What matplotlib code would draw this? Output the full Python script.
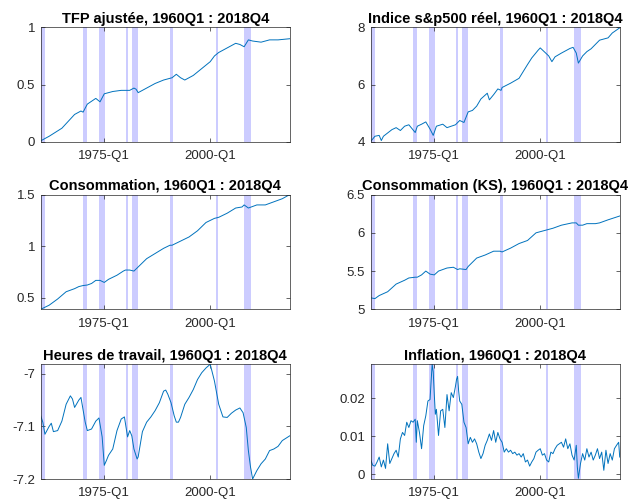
import matplotlib
matplotlib.use("Agg")
import matplotlib.pyplot as plt

plt.rcParams["font.family"] = ["Liberation Sans", "DejaVu Sans"]

# recession bands (decimal years)
bands = [(1960.0, 1960.9), (1970.0, 1970.85), (1973.85, 1975.1), (1980.05, 1980.6),
         (1981.55, 1982.9), (1990.6, 1991.15), (2001.3, 2001.85), (2008.05, 2009.55)]

tfp_t = [1960, 1962, 1965, 1968, 1969.5, 1970, 1971, 1973, 1974, 1975, 1977, 1979, 1981,
         1982, 1982.5, 1983, 1985, 1987, 1989, 1991, 1992, 1993, 1994, 1996, 1998, 2000,
         2001, 2002, 2004, 2006, 2007, 2008, 2009, 2010, 2012, 2014, 2016, 2018.75]
tfp_v = [0.01, 0.05, 0.12, 0.24, 0.27, 0.26, 0.33, 0.38, 0.35, 0.42, 0.44, 0.45, 0.45,
         0.47, 0.46, 0.43, 0.47, 0.51, 0.54, 0.56, 0.59, 0.56, 0.54, 0.58, 0.64, 0.70,
         0.75, 0.78, 0.82, 0.86, 0.85, 0.83, 0.89, 0.88, 0.87, 0.89, 0.89, 0.90]

sp_t = [1960, 1961, 1962, 1962.5, 1963, 1965, 1966, 1967, 1968, 1969, 1970.5, 1971, 1972,
        1973, 1974, 1974.75, 1975.5, 1977, 1978, 1980, 1981, 1982, 1983, 1984, 1985, 1986,
        1987.5, 1988, 1989, 1990, 1990.75, 1991, 1993, 1995, 1997, 1998, 1999.5, 2000,
        2001, 2002, 2002.75, 2003.5, 2005, 2007, 2007.75, 2008.5, 2009, 2010, 2011, 2012,
        2014, 2016, 2017, 2018.75]
sp_v = [4.02, 4.20, 4.23, 4.05, 4.20, 4.43, 4.50, 4.40, 4.55, 4.60, 4.33, 4.55, 4.62,
        4.70, 4.45, 4.23, 4.55, 4.62, 4.50, 4.60, 4.75, 4.68, 5.05, 5.10, 5.25, 5.50,
        5.70, 5.47, 5.65, 5.85, 5.80, 5.90, 6.05, 6.22, 6.70, 6.93, 7.20, 7.28,
        7.14, 7.00, 6.80, 6.97, 7.10, 7.26, 7.30, 7.10, 6.75, 7.00, 7.15, 7.25,
        7.55, 7.63, 7.80, 7.98]

c_t = [1960, 1962, 1964, 1966, 1968, 1969, 1970, 1971, 1972, 1973, 1974, 1975, 1976, 1978,
       1979.5, 1980, 1981, 1982, 1983, 1985, 1987, 1989, 1990.5, 1991, 1993, 1995, 1997,
       1999, 2001, 2002, 2004, 2006, 2007.5, 2008, 2009, 2011, 2013, 2015, 2017, 2018.75]
c_v = [0.39, 0.43, 0.49, 0.56, 0.59, 0.61, 0.62, 0.625, 0.64, 0.67, 0.67, 0.65, 0.68, 0.72,
       0.76, 0.77, 0.77, 0.76, 0.80, 0.88, 0.93, 0.98, 1.01, 1.01, 1.05, 1.09, 1.15,
       1.23, 1.27, 1.28, 1.32, 1.37, 1.38, 1.40, 1.37, 1.40, 1.40, 1.43, 1.46, 1.50]

ks_t = [1960, 1961, 1962, 1964, 1966, 1968, 1969, 1970.5, 1971, 1972, 1973, 1974, 1975,
        1976, 1978, 1979.5, 1980.5, 1981, 1982.5, 1983, 1985, 1987, 1989, 1990.5, 1991,
        1993, 1995, 1997, 1999, 2001, 2003, 2005, 2007.5, 2008.5, 2009, 2010, 2011, 2013,
        2014, 2016, 2018.75]
ks_v = [5.15, 5.14, 5.18, 5.23, 5.33, 5.38, 5.41, 5.42, 5.42, 5.45, 5.50, 5.46, 5.45,
        5.50, 5.54, 5.55, 5.52, 5.53, 5.52, 5.56, 5.67, 5.71, 5.76, 5.76, 5.75,
        5.80, 5.86, 5.90, 6.00, 6.03, 6.06, 6.10, 6.13, 6.13, 6.10, 6.10, 6.12, 6.12,
        6.13, 6.17, 6.22]

h_t = [1960, 1960.5, 1961, 1962, 1962.5, 1963, 1964, 1965, 1966, 1967, 1967.5, 1968, 1969,
       1969.5, 1970.5, 1971, 1972, 1973, 1973.75, 1974.5, 1975, 1975.5, 1976, 1977, 1978,
       1979, 1979.75, 1980.5, 1981, 1981.5, 1982, 1982.75, 1983, 1984, 1985, 1986, 1987,
       1988, 1989, 1989.5, 1990, 1990.75, 1991.5, 1992, 1992.5, 1993, 1994, 1995, 1996,
       1997, 1998, 1999, 2000, 2001, 2001.5, 2002, 2003, 2004, 2005, 2006, 2007, 2007.75,
       2008.5, 2009, 2009.5, 2010, 2011, 2012, 2013, 2014, 2015, 2016, 2017, 2018.75]
h_v = [-7.080, -7.092, -7.115, -7.100, -7.094, -7.110, -7.108, -7.090, -7.058, -7.042,
       -7.048, -7.064, -7.050, -7.045, -7.092, -7.108, -7.105, -7.090, -7.084, -7.120,
       -7.174, -7.165, -7.155, -7.143, -7.108, -7.086, -7.082, -7.120, -7.108, -7.118,
       -7.143, -7.162, -7.158, -7.110, -7.092, -7.082, -7.070, -7.055, -7.033, -7.031,
       -7.039, -7.055, -7.080, -7.092, -7.092, -7.083, -7.058, -7.045, -7.030, -7.011,
       -6.998, -6.989, -6.982, -7.014, -7.036, -7.058, -7.082, -7.083, -7.075, -7.069,
       -7.065, -7.074, -7.102, -7.146, -7.177, -7.200, -7.184, -7.171, -7.162, -7.146,
       -7.143, -7.138, -7.127, -7.118]

inf_t = [1960, 1960.5, 1961, 1961.5, 1962, 1962.5, 1963, 1963.5, 1964, 1964.5, 1965,
         1965.5, 1966, 1966.5, 1967, 1967.5, 1968, 1968.5, 1969, 1969.5, 1970, 1970.5,
         1970.75, 1971, 1971.5, 1972, 1972.5, 1973, 1973.5, 1974, 1974.25, 1974.5,
         1974.75, 1975, 1975.25, 1975.5, 1976, 1976.5, 1977, 1977.5, 1978, 1978.5, 1979,
         1979.5, 1980, 1980.25, 1980.5, 1980.75, 1981, 1981.5, 1982, 1982.5, 1983,
         1983.5, 1984, 1984.5, 1985, 1985.5, 1986, 1986.5, 1987, 1987.5, 1988, 1988.5,
         1989, 1989.5, 1990, 1990.5, 1991, 1991.5, 1992, 1992.5, 1993, 1993.5, 1994,
         1994.5, 1995, 1995.5, 1996, 1996.5, 1997, 1997.5, 1998, 1998.5, 1999, 1999.5,
         2000, 2000.5, 2001, 2001.5, 2002, 2002.5, 2003, 2003.5, 2004, 2004.5, 2005,
         2005.5, 2006, 2006.5, 2007, 2007.5, 2008, 2008.5, 2008.75, 2009, 2009.5, 2010,
         2010.5, 2011, 2011.5, 2012, 2012.5, 2013, 2013.5, 2014, 2014.5, 2015, 2015.5,
         2016, 2016.5, 2017, 2017.5, 2018, 2018.5, 2018.75]
inf_v = [0.0037, 0.0023, 0.0021, 0.0032, 0.0045, 0.0019, 0.0037, 0.0015, 0.0080, 0.0028,
         0.0041, 0.0054, 0.0063, 0.0045, 0.0093, 0.0110, 0.0102, 0.0137, 0.0123, 0.0141,
         0.0137, 0.0145, 0.0084, 0.0141, 0.0110, 0.0067, 0.0128, 0.0154, 0.0193, 0.0197,
         0.0245, 0.0290, 0.0270, 0.0210, 0.0158, 0.0171, 0.0102, 0.0167, 0.0171, 0.0123,
         0.0210, 0.0167, 0.0215, 0.0202, 0.0232, 0.0250, 0.0258, 0.0219, 0.0193, 0.0184,
         0.0137, 0.0123, 0.0080, 0.0097, 0.0084, 0.0093, 0.0080, 0.0058, 0.0041, 0.0054,
         0.0076, 0.0089, 0.0106, 0.0089, 0.0115, 0.0084, 0.0110, 0.0093, 0.0084, 0.0058,
         0.0067, 0.0058, 0.0063, 0.0054, 0.0058, 0.0050, 0.0054, 0.0045, 0.0054, 0.0032,
         0.0037, 0.0021, 0.0032, 0.0041, 0.0058, 0.0063, 0.0067, 0.0050, 0.0054, 0.0037,
         0.0032, 0.0058, 0.0054, 0.0067, 0.0076, 0.0080, 0.0084, 0.0071, 0.0093, 0.0067,
         0.0080, 0.0050, 0.0037, 0.0076, 0.0019, -0.0011, 0.0028, 0.0054, 0.0037, 0.0067,
         0.0045, 0.0058, 0.0037, 0.0050, 0.0067, 0.0041, 0.0058, 0.0010, 0.0063, 0.0028,
         0.0054, 0.0037, 0.0067, 0.0076, 0.0084, 0.0045]

panels = [
    ("TFP ajustée, 1960Q1 : 2018Q4", tfp_t, tfp_v, (0, 1), [0, 0.5, 1], ["0", "0.5", "1"]),
    ("Indice s&p500 réel, 1960Q1 : 2018Q4", sp_t, sp_v, (4, 8), [4, 6, 8], ["4", "6", "8"]),
    ("Consommation, 1960Q1 : 2018Q4", c_t, c_v, (0.39, 1.5), [0.5, 1, 1.5], ["0.5", "1", "1.5"]),
    ("Consommation (KS), 1960Q1 : 2018Q4", ks_t, ks_v, (5, 6.5), [5, 5.5, 6, 6.5],
     ["5", "5.5", "6", "6.5"]),
    ("Heures de travail, 1960Q1 : 2018Q4", h_t, h_v, (-7.2, -6.982), [-7.2, -7.1, -7],
     ["-7.2", "-7.1", "-7"]),
    ("Inflation, 1960Q1 : 2018Q4", inf_t, inf_v, (-0.0013, 0.029), [0, 0.01, 0.02],
     ["0", "0.01", "0.02"]),
]

fig = plt.figure(figsize=(6.28, 5.01), dpi=100)
lefts = [0.0648, 0.5903]
bottoms = [0.7166, 0.3826, 0.0439]
w, h = 0.3965, 0.229

for i, (title, t, v, ylim, yt, ytl) in enumerate(panels):
    ax = fig.add_axes([lefts[i % 2], bottoms[i // 2], w, h])
    for a, b in bands:
        ax.axvspan(a, b, color=(0.8, 0.8, 1.0), lw=0, zorder=1)
    ax.plot(t, v, color="#0072BD", lw=0.7, zorder=2)
    ax.set_xlim(1960, 2018.75)
    ax.set_ylim(*ylim)
    ax.set_xticks([1975, 2000])
    ax.set_xticklabels(["1975-Q1", "2000-Q1"])
    ax.set_yticks(yt)
    ax.set_yticklabels(ytl)
    ax.tick_params(direction="in", length=3, width=0.5, labelsize=9.5, colors="#262626",
                   top=True, right=True, pad=4)
    ax.tick_params(axis="x", pad=6)
    for s in ax.spines.values():
        s.set_linewidth(0.5)
        s.set_color("#262626")
    ax.set_title(title, fontsize=10.5, fontweight="bold", pad=3)

fig.savefig("out.png", dpi=100)
